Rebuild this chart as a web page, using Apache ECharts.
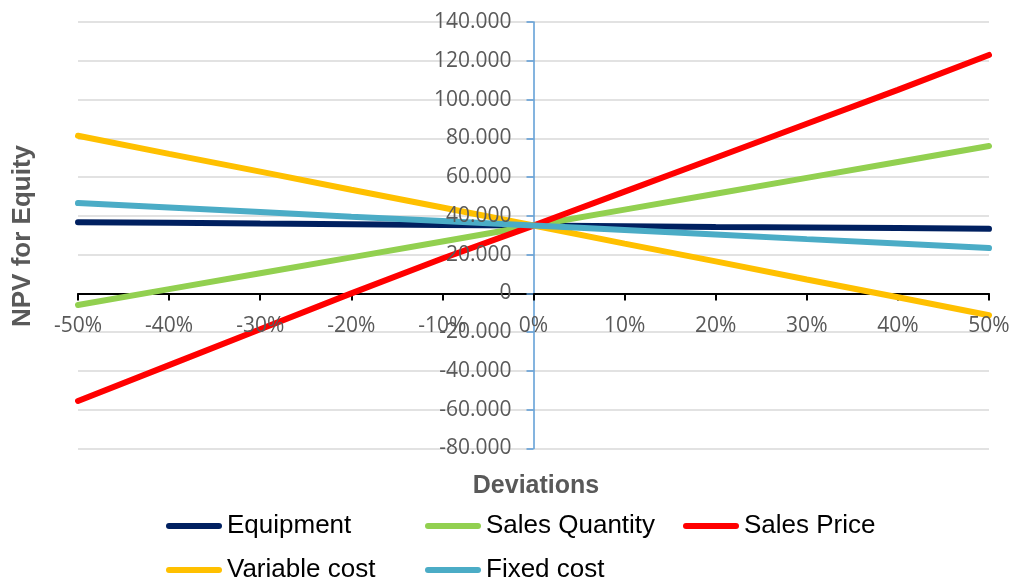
<!DOCTYPE html>
<html>
<head>
<meta charset="utf-8">
<title>NPV sensitivity</title>
<script src="https://cdn.jsdelivr.net/npm/echarts@6/dist/echarts.min.js"></script>
<style>
  html, body { margin: 0; padding: 0; background: #ffffff; }
  #chart { width: 1010px; height: 582px; }
</style>
</head>
<body>
<div id="chart"></div>
<script>
// Deviation from the base case, in percent
const deviations = [-50, -40, -30, -20, -10, 0, 10, 20, 30, 40, 50];

// NPV for equity at each deviation
const equipment     = [36700, 36400, 36000, 35700, 35300, 35000, 34700, 34300, 34000, 33700, 33300];
const salesQuantity = [-6000, 2200, 10400, 18600, 26800, 35000, 43200, 51400, 59600, 67800, 76000];
const salesPrice    = [-55500, -37000, -18500, 0, 18000, 35000, 52500, 70000, 87500, 105000, 123000];
const variableCost  = [81300, 72000, 62800, 53500, 44300, 35000, 25700, 16500, 7200, -2000, -11300];
const fixedCost     = [46600, 44300, 42000, 39600, 37300, 35000, 32700, 30400, 28000, 25700, 23400];

// Axis ranges
const xMin = -50, xMax = 50, xStep = 10;
const yMin = -80000, yMax = 140000, yStep = 20000;

const seriesDefs = [
  { name: 'Equipment',      values: equipment,     color: '#002060' },
  { name: 'Sales Quantity', values: salesQuantity, color: '#92D050' },
  { name: 'Sales Price',    values: salesPrice,    color: '#FF0000' },
  { name: 'Variable cost',  values: variableCost,  color: '#FFC000' },
  { name: 'Fixed cost',     values: fixedCost,     color: '#4BACC6' }
];

// Thousands separated with dots: 140000 -> "140.000"
function fmtThousands(v) {
  if (v === 0) return '0';
  const sign = v < 0 ? '-' : '';
  const s = String(Math.abs(Math.round(v)));
  return sign + s.replace(/\B(?=(\d{3})+(?!\d))/g, '.');
}

// Plot box
const W = 1010, H = 582;
const G = { left: 78, right: 21, top: 22, bottom: 133.5 };
const gridW = W - G.left - G.right;
const gridH = H - G.top - G.bottom;
// Shift that brings the label-only axes onto the zero lines
const yLabelOffset = -gridW * (0 - xMin) / (xMax - xMin);
const xLabelOffset = -gridH * (0 - yMin) / (yMax - yMin);

const labelFont = { fontFamily: 'Open Sans', fontSize: 21, color: '#595959' };
const legendIcon = 'path://M3,0H53A3,3,0,0,1,53,6H3A3,3,0,0,1,3,0Z';

// Legend positions: three columns, two rows
const legendSlots = [
  { left: 166, top: 513 },
  { left: 425, top: 513 },
  { left: 683, top: 513 },
  { left: 166, top: 557 },
  { left: 425, top: 557 }
];

const chart = echarts.init(document.getElementById('chart'), null, { renderer: 'canvas' });

const xCommon = { type: 'value', min: xMin, max: xMax, interval: xStep };
const yCommon = { type: 'value', min: yMin, max: yMax, interval: yStep };

chart.setOption({
  animation: false,
  backgroundColor: '#ffffff',
  grid: Object.assign({ containLabel: false, outerBoundsMode: 'none' }, G),
  title: [
    {
      text: 'Deviations',
      left: 531, top: 469, textAlign: 'center',
      textStyle: { fontFamily: 'Liberation Sans', fontWeight: 'bold', fontSize: 25, color: '#595959' }
    }
  ],
  graphic: [
    {
      type: 'text',
      x: 23, y: 236, rotation: Math.PI / 2,
      style: {
        text: 'NPV for Equity',
        fontFamily: 'Liberation Sans', fontWeight: 'bold', fontSize: 26,
        fill: '#595959', textAlign: 'center', textVerticalAlign: 'middle'
      }
    }
  ],
  legend: seriesDefs.map((s, i) => ({
    data: [s.name],
    left: legendSlots[i].left,
    top: legendSlots[i].top,
    orient: 'horizontal',
    icon: legendIcon,
    itemWidth: 56,
    itemHeight: 6,
    itemGap: 0,
    itemTextGap: 4,
    padding: 0,
    selectedMode: false,
    textStyle: { fontFamily: 'Liberation Sans', fontSize: 26, color: '#000000' }
  })),
  xAxis: [
    Object.assign({}, xCommon, {
      axisLine: { onZero: true, lineStyle: { color: '#000000', width: 2 } },
      axisTick: { show: true, length: 7, inside: false, lineStyle: { color: '#000000', width: 2 } },
      axisLabel: { show: false },
      splitLine: { show: false }
    }),
    Object.assign({}, xCommon, {
      position: 'bottom',
      offset: xLabelOffset,
      z: 10,
      axisLine: { show: false, onZero: false },
      axisTick: { show: false },
      axisLabel: Object.assign({ margin: 22, formatter: v => v + '%' }, labelFont),
      splitLine: { show: false }
    })
  ],
  yAxis: [
    Object.assign({}, yCommon, {
      axisLine: { show: true, onZero: true, lineStyle: { color: '#5B9BD5', width: 1.5 } },
      axisTick: { show: true, length: 7, lineStyle: { color: '#5B9BD5', width: 1.5 } },
      axisLabel: { show: false },
      splitLine: { show: true, lineStyle: { color: '#D9D9D9', width: 1.5 } }
    }),
    Object.assign({}, yCommon, {
      position: 'left',
      offset: yLabelOffset,
      z: 10,
      axisLine: { show: false, onZero: false },
      axisTick: { show: false },
      axisLabel: Object.assign({ margin: 22, formatter: fmtThousands }, labelFont),
      splitLine: { show: false }
    })
  ],
  series: seriesDefs.map(s => ({
    name: s.name,
    type: 'line',
    xAxisIndex: 0,
    yAxisIndex: 0,
    data: deviations.map((d, i) => [d, s.values[i]]),
    showSymbol: false,
    symbol: 'none',
    smooth: false,
    itemStyle: { color: s.color },
    lineStyle: { color: s.color, width: 6, cap: 'round' },
    z: 2
  }))
});
</script>
</body>
</html>
